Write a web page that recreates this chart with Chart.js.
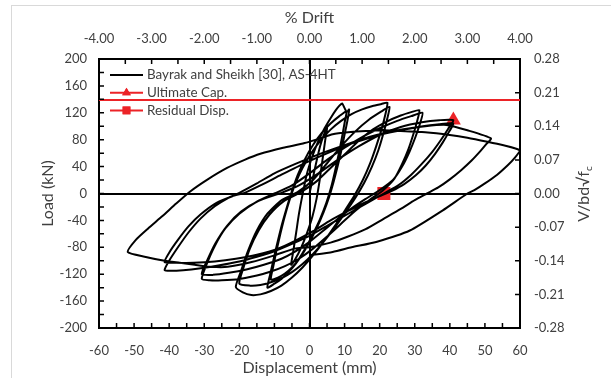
<!DOCTYPE html>
<html>
<head>
<meta charset="utf-8">
<script src="https://cdn.jsdelivr.net/npm/chart.js@4.4.1/dist/chart.umd.min.js"></script>
<style>
  html, body { margin: 0; padding: 0; background: #fff; }
  #wrap { position: relative; width: 611px; height: 378px; overflow: hidden; }
  #frame { position: absolute; left: 11px; top: 5px; width: 640px; height: 400px;
           border-left: 1px solid #d9d9d9; border-top: 1px solid #d9d9d9; }
  canvas { position: absolute; left: 0; top: 0; }
</style>
</head>
<body>
<div id="wrap">
  <div id="frame"></div>
  <canvas id="chart" width="611" height="378"></canvas>
</div>
<script>
// Axis tick values
const dispTicks = [-60, -50, -40, -30, -20, -10, 0, 10, 20, 30, 40, 50, 60];
const loadTicks = [-200, -160, -120, -80, -40, 0, 40, 80, 120, 160, 200];
const driftTicks = [-4, -3, -2, -1, 0, 1, 2, 3, 4];
const shearTicks = [-0.28, -0.21, -0.14, -0.07, 0, 0.07, 0.14, 0.21, 0.28];

// Cyclic load–displacement record, [displacement (mm), load (kN)], one array per cycle
const cycle1 = [[0,0],[1,24],[2,48],[3,70],[4,86],[5,97],[4.5,80],[3.7,50],[2.9,20],[2,-8],[0.8,-35],[-0.8,-60],[-2.5,-82],[-4,-97],[-5.2,-106],
  [-4.6,-85],[-3.8,-58],[-3,-30],[-2,-2],[-0.8,28],[0.8,55],[2.5,78],[4.3,97],[6,112],[7.5,124],[8.6,131],[9.3,134],[10,127],[10.6,121],[11.3,125]];
const cycle2 = [[10.8,108],[9.9,85],[9,62],[8,40],[6.9,18],[5.6,-5],[4,-28],[2,-52],[0,-72],[-2,-90],[-4,-105],[-6,-117],[-8,-127],[-10,-134],[-12,-140],
  [-11.2,-120],[-10.2,-97],[-9.1,-72],[-7.9,-47],[-6.6,-23],[-5.1,2],[-3.4,27],[-1.4,50],[1,72],[3.5,90],[6,104],[8.5,115],[10.5,122]];
const cycle3 = [[10,105],[9.2,82],[8.3,58],[7.3,34],[6.2,10],[4.8,-14],[3,-38],[1,-60],[-1,-80],[-3,-97],[-5,-110],[-7,-119],[-9,-125],[-11,-128],
  [-10.3,-108],[-9.4,-85],[-8.3,-60],[-7.1,-35],[-5.7,-10],[-4,15],[-2,38],[0.5,60],[3,78],[6,95],[9,108],[12,118],[15,125],[18,130],[20.5,133],[22.2,135]];
const cycle4 = [[21.6,117],[20.5,95],[19,70],[17.3,45],[15.2,20],[12.8,-3],[10,-26],[7,-50],[4,-72],[1,-92],[-2,-110],[-5,-125],[-8,-137],[-11,-145],[-14,-150],[-16.6,-151],[-19,-147],[-21,-139],
  [-19.5,-115],[-17.5,-85],[-15,-55],[-12,-30],[-8,-10],[-3.4,2],[1,20],[5,45],[9,70],[13,92],[17,110],[20.5,122],[22.8,129]];
const cycle5 = [[22.1,110],[21,88],[19.6,64],[17.8,40],[15.6,16],[13,-7],[10,-30],[7,-52],[4,-72],[1,-90],[-2,-105],[-5,-117],[-8,-126],[-11,-132],[-14,-136],[-17,-137],[-20,-134],
  [-18.8,-110],[-17,-82],[-14.5,-55],[-11.5,-32],[-7.5,-12],[-2.5,2],[2,18],[6,38],[10,58],[14,78],[18,95],[22,107],[26,116],[29,121],[31.3,124]];
const cycle6 = [[30.7,108],[29.6,88],[28.2,66],[26.4,44],[24.2,22],[21,5],[17,-10],[13,-26],[9,-45],[5,-64],[1,-82],[-3,-97],[-7,-108],[-11,-116],[-15,-122],[-20,-127],[-25,-129],[-28.5,-129],[-30.7,-127],
  [-29.3,-105],[-27,-78],[-24,-52],[-20,-30],[-15,-12],[-10,0],[-5,12],[0,30],[5,50],[10,68],[15,84],[20,97],[25,108],[29,115],[32.2,120]];
const cycle7 = [[31.5,104],[30.2,84],[28.5,62],[26.4,40],[23.8,20],[20,5],[16,-8],[12,-22],[8,-38],[4,-55],[0,-72],[-4,-86],[-8,-97],[-13,-106],[-18,-113],[-23,-118],[-27.5,-121],[-30.7,-120],
  [-29.2,-100],[-26.8,-74],[-23.5,-48],[-19.5,-27],[-14.5,-11],[-8,1],[-3,12],[2,28],[8,50],[14,70],[20,87],[26,99],[32,106],[37,109],[41,109]];
const cycle8 = [[39.5,96],[37.5,80],[35,62],[32,44],[29,28],[25.5,13],[21.2,0],[16.5,-14],[11.4,-29],[6,-45],[0,-63],[-5,-75],[-10,-86],[-15,-94],[-20,-101],[-26,-107],[-31,-111],[-36,-114],[-39.5,-115],[-41.3,-114],
  [-40,-100],[-37.5,-80],[-34.5,-58],[-31,-37],[-27,-19],[-23,-6],[-20,1],[-15,15],[-10,30],[-4,44],[3,59],[10,72],[17,84],[24,93],[31,99],[37,103],[41,104]];
const cycle9 = [[39.8,92],[38,76],[35.8,59],[33.2,42],[30.3,27],[27,14],[23.5,4],[20,-4],[16,-13],[11,-26],[6,-40],[1,-56],[-4,-70],[-9,-82],[-15,-91],[-21,-97],[-27,-101],[-33,-103],[-38,-103],[-41.3,-102],
  [-40,-88],[-37.5,-69],[-34.5,-49],[-31,-31],[-26.5,-14],[-22,-4],[-18.5,1],[-14,12],[-8,28],[-1,46],[6,62],[13,76],[20,87],[27,95],[33,100],[39,102],[45,94],[51.7,82]];
const cycle10 = [[50.5,74],[48.7,63],[46.2,49],[43.3,35],[40,21],[36.7,9],[33.5,0],[30,-10],[26,-23],[21,-38],[16,-53],[11,-64],[6,-73],[0,-80],[-4.3,-82],[-10,-92],[-16.5,-102],[-23.3,-109],[-28,-109],[-32.7,-106],[-37,-103],[-41.3,-100],[-47,-94],[-51.8,-87],
  [-49.5,-69],[-46,-52],[-42,-34],[-38,-15],[-34,3],[-29,21],[-23.5,38],[-18.5,50],[-14,59],[-7.5,68],[-1.4,75],[3,82],[6.6,88],[11,91],[16,93],[21,94],[26,93],[33,91],[40,87],[45,83],[50.7,77],[55,72],[60,64]];
const cycle11 = [[58.5,53],[56.5,42],[53.5,28],[50,15],[47,5],[45,0],[38,-25],[28.6,-55],[19,-72],[12,-80],[6.6,-87],[0,-92]];

// Reference markers
const ultimateCap = [41, 109];
const residualDisp = [21.2, 0];
const ultimateLine = 139;

const cycles = [cycle1, cycle2, cycle3, cycle4, cycle5, cycle6, cycle7, cycle8, cycle9, cycle10, cycle11];
const hysteresis = cycles.flat().map(([x, y]) => ({ x, y }));

const RED = '#ec2327';
const TEXT = '#404040';
const FONT = 'Lato, "Open Sans", sans-serif';

Chart.defaults.font.family = FONT;
Chart.defaults.color = TEXT;

const fmt2 = v => (Math.abs(v) < 1e-9 ? 0 : v).toFixed(2);

// Short inward tick marks on all four sides of the plot frame
const inwardTicks = {
  id: 'inwardTicks',
  afterDraw(chart) {
    const { ctx, chartArea: a, scales } = chart;
    ctx.save();
    ctx.strokeStyle = '#000';
    ctx.lineWidth = 1.5;
    const L = 5;
    ctx.beginPath();
    for (let v = -60; v <= 60; v += 5) {
      const px = scales.x.getPixelForValue(v);
      ctx.moveTo(px, a.bottom); ctx.lineTo(px, a.bottom - L);
    }
    for (let v = -4; v <= 4.001; v += 0.5) {
      const px = scales.x2.getPixelForValue(v);
      ctx.moveTo(px, a.top); ctx.lineTo(px, a.top + L);
    }
    for (let v = -200; v <= 200; v += 20) {
      const py = scales.y.getPixelForValue(v);
      ctx.moveTo(a.left, py); ctx.lineTo(a.left + L, py);
    }
    shearTicks.forEach(v => {
      const py = scales.y2.getPixelForValue(v);
      ctx.moveTo(a.right, py); ctx.lineTo(a.right - L, py);
    });
    ctx.stroke();
    ctx.restore();
  }
};

// Legend drawn inside the plot, each entry a short line with its marker
const insideLegend = {
  id: 'insideLegend',
  afterDraw(chart) {
    const { ctx } = chart;
    const items = [
      { text: 'Bayrak and Sheikh [30], AS-4HT', color: '#000', marker: null },
      { text: 'Ultimate Cap.', color: RED, marker: 'triangle' },
      { text: 'Residual Disp.', color: RED, marker: 'rect' }
    ];
    ctx.save();
    ctx.font = '13.4px ' + FONT;
    ctx.textBaseline = 'middle';
    items.forEach((it, i) => {
      const y = 75 + i * 17.7;
      ctx.strokeStyle = it.color;
      ctx.lineWidth = 2;
      ctx.beginPath(); ctx.moveTo(110, y); ctx.lineTo(143, y); ctx.stroke();
      if (it.marker) {
        ctx.fillStyle = it.color;
        Chart.helpers.drawPoint(ctx, { pointStyle: it.marker, radius: it.marker === 'rect' ? 5.5 : 5, rotation: 0, borderWidth: 0 }, 126.5, y);
        ctx.fill();
      }
      ctx.fillStyle = TEXT;
      ctx.fillText(it.text, 147, y);
    });
    ctx.restore();
  }
};

// Right-hand axis title with subscript c
const rightTitle = {
  id: 'rightTitle',
  afterDraw(chart) {
    const { ctx } = chart;
    ctx.save();
    ctx.translate(584, 194);
    ctx.rotate(-Math.PI / 2);
    ctx.fillStyle = TEXT;
    ctx.textBaseline = 'middle';
    const main = 'V/bd\u221Af';
    ctx.font = '16px ' + FONT;
    const w1 = ctx.measureText(main).width;
    ctx.font = '10px ' + FONT;
    const w2 = ctx.measureText('c').width;
    const x0 = -(w1 + w2) / 2;
    ctx.font = '16px ' + FONT;
    ctx.textAlign = 'left';
    ctx.fillText(main, x0, 0);
    ctx.font = '10px ' + FONT;
    ctx.fillText('c', x0 + w1, 5);
    ctx.restore();
  }
};

new Chart(document.getElementById('chart'), {
  type: 'scatter',
  data: {
    datasets: [
      {
        label: 'Bayrak and Sheikh [30], AS-4HT',
        data: hysteresis,
        showLine: true,
        borderColor: '#000',
        borderWidth: 2,
        pointRadius: 0,
        tension: 0.2,
        xAxisID: 'x', yAxisID: 'y'
      },
      {
        label: 'Ultimate Cap. line',
        data: [{ x: dispTicks[0], y: ultimateLine }, { x: dispTicks[dispTicks.length - 1], y: ultimateLine }],
        showLine: true, borderColor: RED, borderWidth: 2, pointRadius: 0,
        xAxisID: 'x', yAxisID: 'y'
      },
      {
        label: 'Ultimate Cap.',
        data: [{ x: ultimateCap[0], y: ultimateCap[1] }],
        pointStyle: 'triangle', pointRadius: 8.7, backgroundColor: RED, borderColor: RED, borderWidth: 0,
        xAxisID: 'x', yAxisID: 'y'
      },
      {
        label: 'Residual Disp.',
        data: [{ x: residualDisp[0], y: residualDisp[1] }],
        pointStyle: 'rect', pointRadius: 9.2, backgroundColor: RED, borderColor: RED, borderWidth: 0,
        xAxisID: 'x', yAxisID: 'y'
      }
    ]
  },
  options: {
    responsive: false,
    animation: false,
    devicePixelRatio: 1,
    layout: { padding: 0 },
    plugins: { legend: { display: false }, tooltip: { enabled: false } },
    scales: {
      x: {
        type: 'linear', position: 'bottom',
        min: dispTicks[0], max: dispTicks[dispTicks.length - 1],
        afterBuildTicks: s => { s.ticks = dispTicks.map(v => ({ value: v })); },
        ticks: { autoSkip: false, maxRotation: 0, padding: 15, font: { size: 13 }, color: TEXT },
        grid: { drawTicks: false, lineWidth: 2, color: c => (c.tick && c.tick.value === 0 ? '#000' : 'rgba(0,0,0,0)') },
        border: { display: true, color: '#000', width: 2 },
        title: { display: true, text: 'Displacement (mm)', font: { size: 16 }, color: TEXT, padding: { top: 0, bottom: 1 } },
        afterFit: s => { s.height = 50; }
      },
      x2: {
        type: 'linear', position: 'top',
        min: driftTicks[0], max: driftTicks[driftTicks.length - 1],
        afterBuildTicks: s => { s.ticks = driftTicks.map(v => ({ value: v })); },
        ticks: { autoSkip: false, maxRotation: 0, padding: 12, font: { size: 13 }, color: TEXT, callback: v => fmt2(v) },
        grid: { drawTicks: false, drawOnChartArea: false },
        border: { display: true, color: '#000', width: 2 },
        title: { display: true, text: '% Drift', font: { size: 16 }, color: TEXT, padding: { top: 8, bottom: 0 } },
        afterFit: s => { s.height = 59; }
      },
      y: {
        type: 'linear', position: 'left',
        min: loadTicks[0], max: loadTicks[loadTicks.length - 1],
        afterBuildTicks: s => { s.ticks = loadTicks.map(v => ({ value: v })); },
        ticks: { autoSkip: false, padding: 12, font: { size: 13 }, color: TEXT },
        grid: { drawTicks: false, lineWidth: 2, color: c => (c.tick && c.tick.value === 0 ? '#000' : 'rgba(0,0,0,0)') },
        border: { display: true, color: '#000', width: 2 },
        title: { display: true, text: 'Load (kN)', font: { size: 16 }, color: TEXT, padding: { top: 38, bottom: 0 } },
        afterFit: s => { s.width = 99; }
      },
      y2: {
        type: 'linear', position: 'right',
        min: shearTicks[0], max: shearTicks[shearTicks.length - 1],
        afterBuildTicks: s => { s.ticks = shearTicks.map(v => ({ value: v })); },
        ticks: { autoSkip: false, padding: 14, font: { size: 13 }, color: TEXT, callback: v => fmt2(v) },
        grid: { drawTicks: false, drawOnChartArea: false },
        border: { display: true, color: '#000', width: 2 },
        afterFit: s => { s.width = 91; }
      }
    }
  },
  plugins: [inwardTicks, insideLegend, rightTitle]
});
</script>
</body>
</html>
